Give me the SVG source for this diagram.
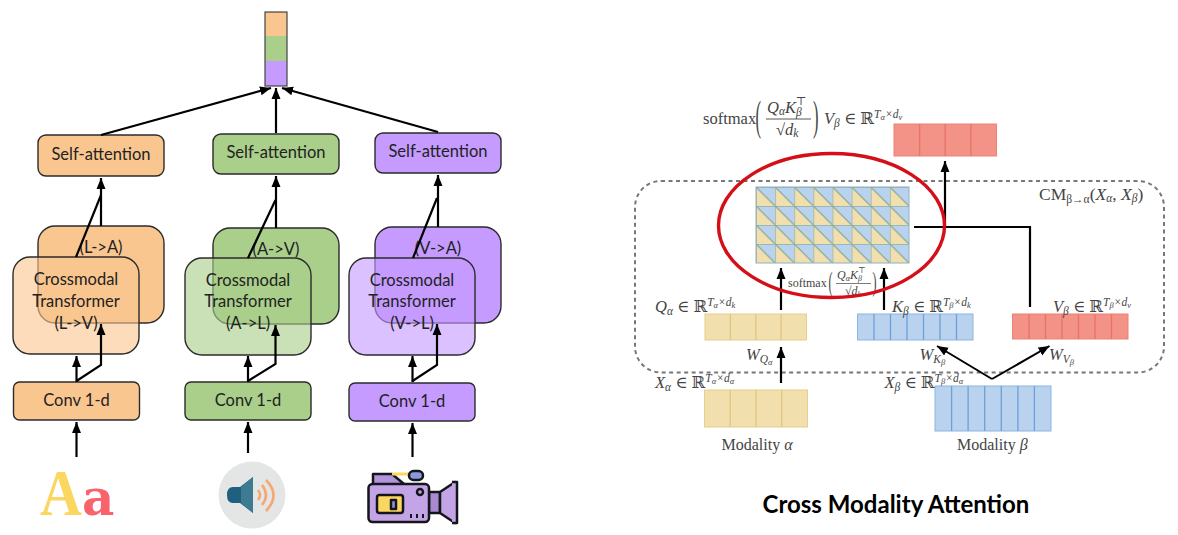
<svg xmlns="http://www.w3.org/2000/svg" width="1178" height="535" viewBox="0 0 1178 535">
<style>
.t{font-family:Lato,"Liberation Sans",sans-serif;font-size:16.500px;fill:#222;text-anchor:middle}
.box{stroke:#2b2b2b;stroke-width:1.4}
.or{fill:#fac68f}.gr{fill:#a9cf8b}.pu{fill:#c59bff}
.fr{fill-opacity:.62}
.c{fill:none;stroke:#000;stroke-width:2.2}
.a{marker-end:url(#ah)}
.m{font-family:"Liberation Serif","DejaVu Serif",serif;font-size:16.500px;fill:#444}
.i{font-style:italic}
.n{font-style:normal}
.s{font-size:11.500px}
.ss{font-size:8.500px}
.sm{font-size:11px}
.xs{font-size:8px}
.y{fill:#f1dfae;stroke:#e6cf8c;stroke-width:1}
.b{fill:#b9d3ef;stroke:#8db4e0;stroke-width:1}
.r{fill:#f39286;stroke:#ee8074;stroke-width:1}
.yl{stroke:#e0c67e;stroke-width:1.3}
.bl{stroke:#6f9fd8;stroke-width:1.3}
.rl{stroke:#e67467;stroke-width:1.3}
</style>
<defs>
<marker id="ah" markerUnits="userSpaceOnUse" markerWidth="12" markerHeight="10" refX="11" refY="5" orient="auto"><path d="M0,.5L11,5L0,9.500Z" fill="#000"/></marker>
<pattern id="cell" patternUnits="userSpaceOnUse" x="756" y="187" width="19.125" height="19">
<rect width="19.125" height="19" fill="#b9d3ef"/>
<path d="M0,0L19.125,19H0Z" fill="#f1dfae"/>
<path d="M0,0L19.125,19M0,0H19.125M0,0V19" fill="none" stroke="#8fae9f" stroke-width="1.3"/>
</pattern>
</defs>

<g id="output-bar">
<rect x="265" y="12" width="22" height="24" class="or"/>
<rect x="265" y="36" width="22" height="25" class="gr"/>
<rect x="265" y="61" width="22" height="25" class="pu"/>
<rect x="265" y="12" width="22" height="74" fill="none" stroke="#444" stroke-width="1.2"/>
</g>

<g id="self-attention-l"><rect x="38" y="135" width="126" height="41" rx="8" class="box or"/><text x="101" y="160" class="t">Self-attention</text></g>
<g id="self-attention-a"><rect x="213" y="134" width="126" height="40" rx="8" class="box gr"/><text x="276" y="158" class="t">Self-attention</text></g>
<g id="self-attention-v"><rect x="375" y="133" width="126" height="40" rx="8" class="box pu"/><text x="438" y="157" class="t">Self-attention</text></g>

<g id="crossmodal-l-a"><rect x="38" y="226" width="126" height="97" rx="17" class="box or"/><text x="101" y="253" class="t">(L-&gt;A)</text></g>
<g id="crossmodal-a-v"><rect x="213" y="228" width="126" height="96" rx="17" class="box gr"/><text x="276" y="255" class="t">(A-&gt;V)</text></g>
<g id="crossmodal-v-a"><rect x="375" y="227" width="126" height="96" rx="17" class="box pu"/><text x="438" y="254" class="t">(V-&gt;A)</text></g>

<g id="crossmodal-l-v"><rect x="13" y="257" width="126" height="97" rx="17" class="box or fr"/><text x="76" y="285" class="t">Crossmodal</text><text x="76" y="307" class="t">Transformer</text><text x="76" y="329" class="t">(L-&gt;V)</text></g>
<g id="crossmodal-a-l"><rect x="185" y="258" width="126" height="97" rx="17" class="box gr fr"/><text x="248" y="286" class="t">Crossmodal</text><text x="248" y="307" class="t">Transformer</text><text x="248" y="329" class="t">(A-&gt;L)</text></g>
<g id="crossmodal-v-l"><rect x="349" y="258" width="126" height="97" rx="17" class="box pu fr"/><text x="412" y="286" class="t">Crossmodal</text><text x="412" y="307" class="t">Transformer</text><text x="412" y="329" class="t">(V-&gt;L)</text></g>

<g id="conv-l"><rect x="13.500" y="382" width="126" height="38" rx="6" class="box or"/><text x="76.500" y="406" class="t">Conv 1-d</text></g>
<g id="conv-a"><rect x="185" y="382" width="126" height="38" rx="6" class="box gr"/><text x="248" y="406" class="t">Conv 1-d</text></g>
<g id="conv-v"><rect x="349" y="383" width="126" height="38" rx="6" class="box pu"/><text x="412" y="407" class="t">Conv 1-d</text></g>

<g id="icon-text">
<text transform="translate(40,515) scale(1,1.14)" font-family="Liberation Serif,serif" font-weight="700" font-size="58" fill="#fbd661">A</text>
<text x="82" y="515" font-family="DejaVu Serif,serif" font-weight="700" font-size="50" fill="#f9636b">a</text>
</g>
<g id="icon-audio">
<circle cx="252" cy="495" r="33.500" fill="#e4e6e6"/>
<path d="M253,477V513L240,503H233Q227,503 227,495Q227,487 233,487H240Z" fill="#1f5f7f"/>
<path d="M253,477V513L241,503V487Z" fill="#3e7a92"/>
<path d="M258,490Q262,495 258,500M262,485Q270,495 262,505M266,480Q281,495 266,511" fill="none" stroke="#f5a873" stroke-width="2.600"/>
</g>
<g id="icon-video" stroke="#15151c" stroke-width="2.500" stroke-linejoin="round">
<path d="M373,484V474H392L404,484" fill="#b394dc"/>
<path d="M392,474H410" fill="none" stroke="#fbd661" stroke-width="3"/>
<rect x="409" y="471" width="14" height="9" rx="4.500" fill="#8d97e0"/>
<path d="M429,492H440V513H429Z" fill="#a989cf"/>
<path d="M440,492L455,482V523L440,513Z" fill="#c3a4e6"/>
<path d="M452,482H457V523H452" fill="#c3a4e6"/>
<rect x="368.500" y="484" width="60.500" height="38" rx="4" fill="#c3a4e6"/>
<rect x="377" y="495" width="26" height="18" rx="2.500" fill="#fbd661"/>
<rect x="391" y="500" width="5" height="9" fill="#8d97e0"/>
<circle cx="420" cy="492" r="3" fill="#c3a4e6"/>
<path d="M411,514V518M417,514V518M423,514V518" stroke-width="2"/>
</g>

<g id="cm-block"><rect x="635" y="181" width="529" height="191.500" rx="26" fill="none" stroke="#777" stroke-width="2" stroke-dasharray="4 3.500"/></g>

<g id="attention-grid"><rect x="756" y="187" width="153" height="76" fill="url(#cell)" stroke="#8fb0c4" stroke-width="1"/></g>

<g id="output-red"><rect x="894" y="124" width="102.500" height="32" class="r"/><path d="M919.600,124V156M945.200,124V156M970.900,124V156" class="rl"/></g>
<g id="q-bar"><rect x="705" y="314" width="101.500" height="26" class="y"/><path d="M730.400,314V340M755.800,314V340M781.100,314V340" class="yl"/></g>
<g id="k-bar"><rect x="857.500" y="314" width="115.500" height="26" class="b"/><path d="M874,314V340M890.500,314V340M907,314V340M923.500,314V340M940,314V340M956.500,314V340" class="bl"/></g>
<g id="v-bar"><rect x="1012.500" y="314" width="115.500" height="25" class="r"/><path d="M1029,314V339M1045.500,314V339M1062,314V339M1078.500,314V339M1095,314V339M1111.500,314V339" class="rl"/></g>
<g id="x-alpha-bar"><rect x="704.500" y="390" width="103" height="37" class="y"/><path d="M730.200,390V427M756,390V427M781.700,390V427" class="yl"/></g>
<g id="x-beta-bar"><rect x="935" y="386" width="116" height="45" class="b"/><path d="M951.600,386V431M968.100,386V431M984.700,386V431M1001.300,386V431M1017.900,386V431M1034.400,386V431" class="bl"/></g>

<g id="math-labels">
<text x="703" y="124" class="m">softmax</text>
<text transform="translate(755.500,130) scale(1,2.500)" class="m">(</text>
<text x="767" y="113" class="m i">Q<tspan class="s" dy="2">α</tspan><tspan dy="-2">K</tspan><tspan class="s" dy="3">β</tspan><tspan class="s n" dx="-6" dy="-11">⊤</tspan></text>
<path d="M766,119H811" stroke="#444" stroke-width=".9"/>
<text x="776" y="135" class="m">√<tspan class="i">d</tspan><tspan class="s i" dy="2">k</tspan></text>
<text transform="translate(813,130) scale(1,2.500)" class="m">)</text>
<text x="824" y="124" class="m i">V<tspan class="s" dy="3">β</tspan><tspan class="n" dy="-3"> ∈ ℝ</tspan><tspan class="s" dy="-6">T</tspan><tspan class="ss" dy="2">α</tspan><tspan class="s" dy="-2">×d</tspan><tspan class="ss" dy="2">v</tspan></text>

<text x="1039" y="200" class="m" style="font-size:17.500px">CM<tspan class="s" dy="3">β→α</tspan><tspan dy="-3">(</tspan><tspan class="i">X</tspan><tspan class="s i" dy="2">α</tspan><tspan dy="-2">, </tspan><tspan class="i">X</tspan><tspan class="s i" dy="2">β</tspan><tspan dy="-2">)</tspan></text>

<text x="788" y="287" class="m" style="font-size:12px">softmax</text>
<text transform="translate(828.500,291) scale(1,2.300)" class="m" style="font-size:12px">(</text>
<text transform="translate(872.500,291) scale(1,2.300)" class="m" style="font-size:12px">)</text>
<text x="837" y="279" class="m i" style="font-size:12px">Q<tspan class="xs" dy="1.500">α</tspan><tspan dy="-1.500">K</tspan><tspan class="xs" dy="2">β</tspan><tspan class="xs n" dx="-4" dy="-8">⊤</tspan></text>
<path d="M836,283.500H871" stroke="#444" stroke-width=".7"/>
<text x="845" y="295" class="m" style="font-size:12px">√<tspan class="i">d</tspan><tspan class="xs i" dy="1.500">k</tspan></text>

<text x="655" y="312" class="m i">Q<tspan class="s" dy="3">α</tspan><tspan class="n" dy="-3"> ∈ ℝ</tspan><tspan class="s" dy="-6">T</tspan><tspan class="ss" dy="2">α</tspan><tspan class="s" dy="-2">×d</tspan><tspan class="ss" dy="2">k</tspan></text>
<text x="892" y="312" class="m i">K<tspan class="s" dy="3">β</tspan><tspan class="n" dy="-3"> ∈ ℝ</tspan><tspan class="s" dy="-6">T</tspan><tspan class="ss" dy="2">β</tspan><tspan class="s" dy="-2">×d</tspan><tspan class="ss" dy="2">k</tspan></text>
<text x="1053" y="312" class="m i">V<tspan class="s" dy="3">β</tspan><tspan class="n" dy="-3"> ∈ ℝ</tspan><tspan class="s" dy="-6">T</tspan><tspan class="ss" dy="2">β</tspan><tspan class="s" dy="-2">×d</tspan><tspan class="ss" dy="2">v</tspan></text>
<text x="746" y="360" class="m i">W<tspan class="s" dy="3">Q</tspan><tspan class="ss" dy="2">α</tspan></text>
<text x="919.500" y="360" class="m i">W<tspan class="s" dy="3">K</tspan><tspan class="ss" dy="2">β</tspan></text>
<text x="1049" y="360" class="m i">W<tspan class="s" dy="3">V</tspan><tspan class="ss" dy="2">β</tspan></text>
<text x="655" y="388" class="m i">X<tspan class="s" dy="3">α</tspan><tspan class="n" dy="-3"> ∈ ℝ</tspan><tspan class="s" dy="-6">T</tspan><tspan class="ss" dy="2">α</tspan><tspan class="s" dy="-2">×d</tspan><tspan class="ss" dy="2">α</tspan></text>
<text x="884.500" y="388" class="m i">X<tspan class="s" dy="3">β</tspan><tspan class="n" dy="-3"> ∈ ℝ</tspan><tspan class="s" dy="-6">T</tspan><tspan class="ss" dy="2">β</tspan><tspan class="s" dy="-2">×d</tspan><tspan class="ss" dy="2">α</tspan></text>
<text x="721.500" y="450" class="m" style="font-size:16px">Modality <tspan class="i">α</tspan></text>
<text x="957" y="450" class="m" style="font-size:16px">Modality <tspan class="i">β</tspan></text>
</g>

<g id="connectors">
<path class="c a" d="M101,135L271,88"/>
<path class="c a" d="M276,133V88"/>
<path class="c a" d="M438,132L282,88"/>
<path class="c a" d="M101,226V178"/>
<path class="c" d="M76,257L101,195"/>
<path class="c a" d="M276,228V176"/>
<path class="c" d="M248,258L275.500,200"/>
<path class="c a" d="M438,227V175"/>
<path class="c" d="M413,258L437,198"/>
<path class="c a" d="M76.500,382V356"/>
<path class="c a" d="M76.500,381L101,365V324"/>
<path class="c a" d="M248,382V356"/>
<path class="c a" d="M248,381L275.500,364V325"/>
<path class="c a" d="M412.500,382V356"/>
<path class="c a" d="M412.500,381L437,365V324"/>
<path class="c a" d="M76.500,457V422"/>
<path class="c a" d="M248,453V422"/>
<path class="c a" d="M412.500,457V423"/>
<path class="c a" d="M945,227V161"/>
<path class="c" d="M914,227H1030V307"/>
<path class="c a" d="M781,310V268"/>
<path class="c a" d="M884,310V268"/>
<path class="c a" d="M781,383V347"/>
<path class="c a" style="stroke-width:2" d="M992,379L937,346"/>
<path class="c a" style="stroke-width:2" d="M992,379L1049.500,346"/>
</g>

<g id="highlight"><ellipse cx="831.500" cy="225.500" rx="113" ry="72" fill="none" stroke="#d40f18" stroke-width="3.400"/></g>

<text id="title" x="896" y="513" text-anchor="middle" font-family="Lato,'Liberation Sans',sans-serif" font-weight="700" font-size="24" fill="#000">Cross Modality Attention</text>
</svg>
